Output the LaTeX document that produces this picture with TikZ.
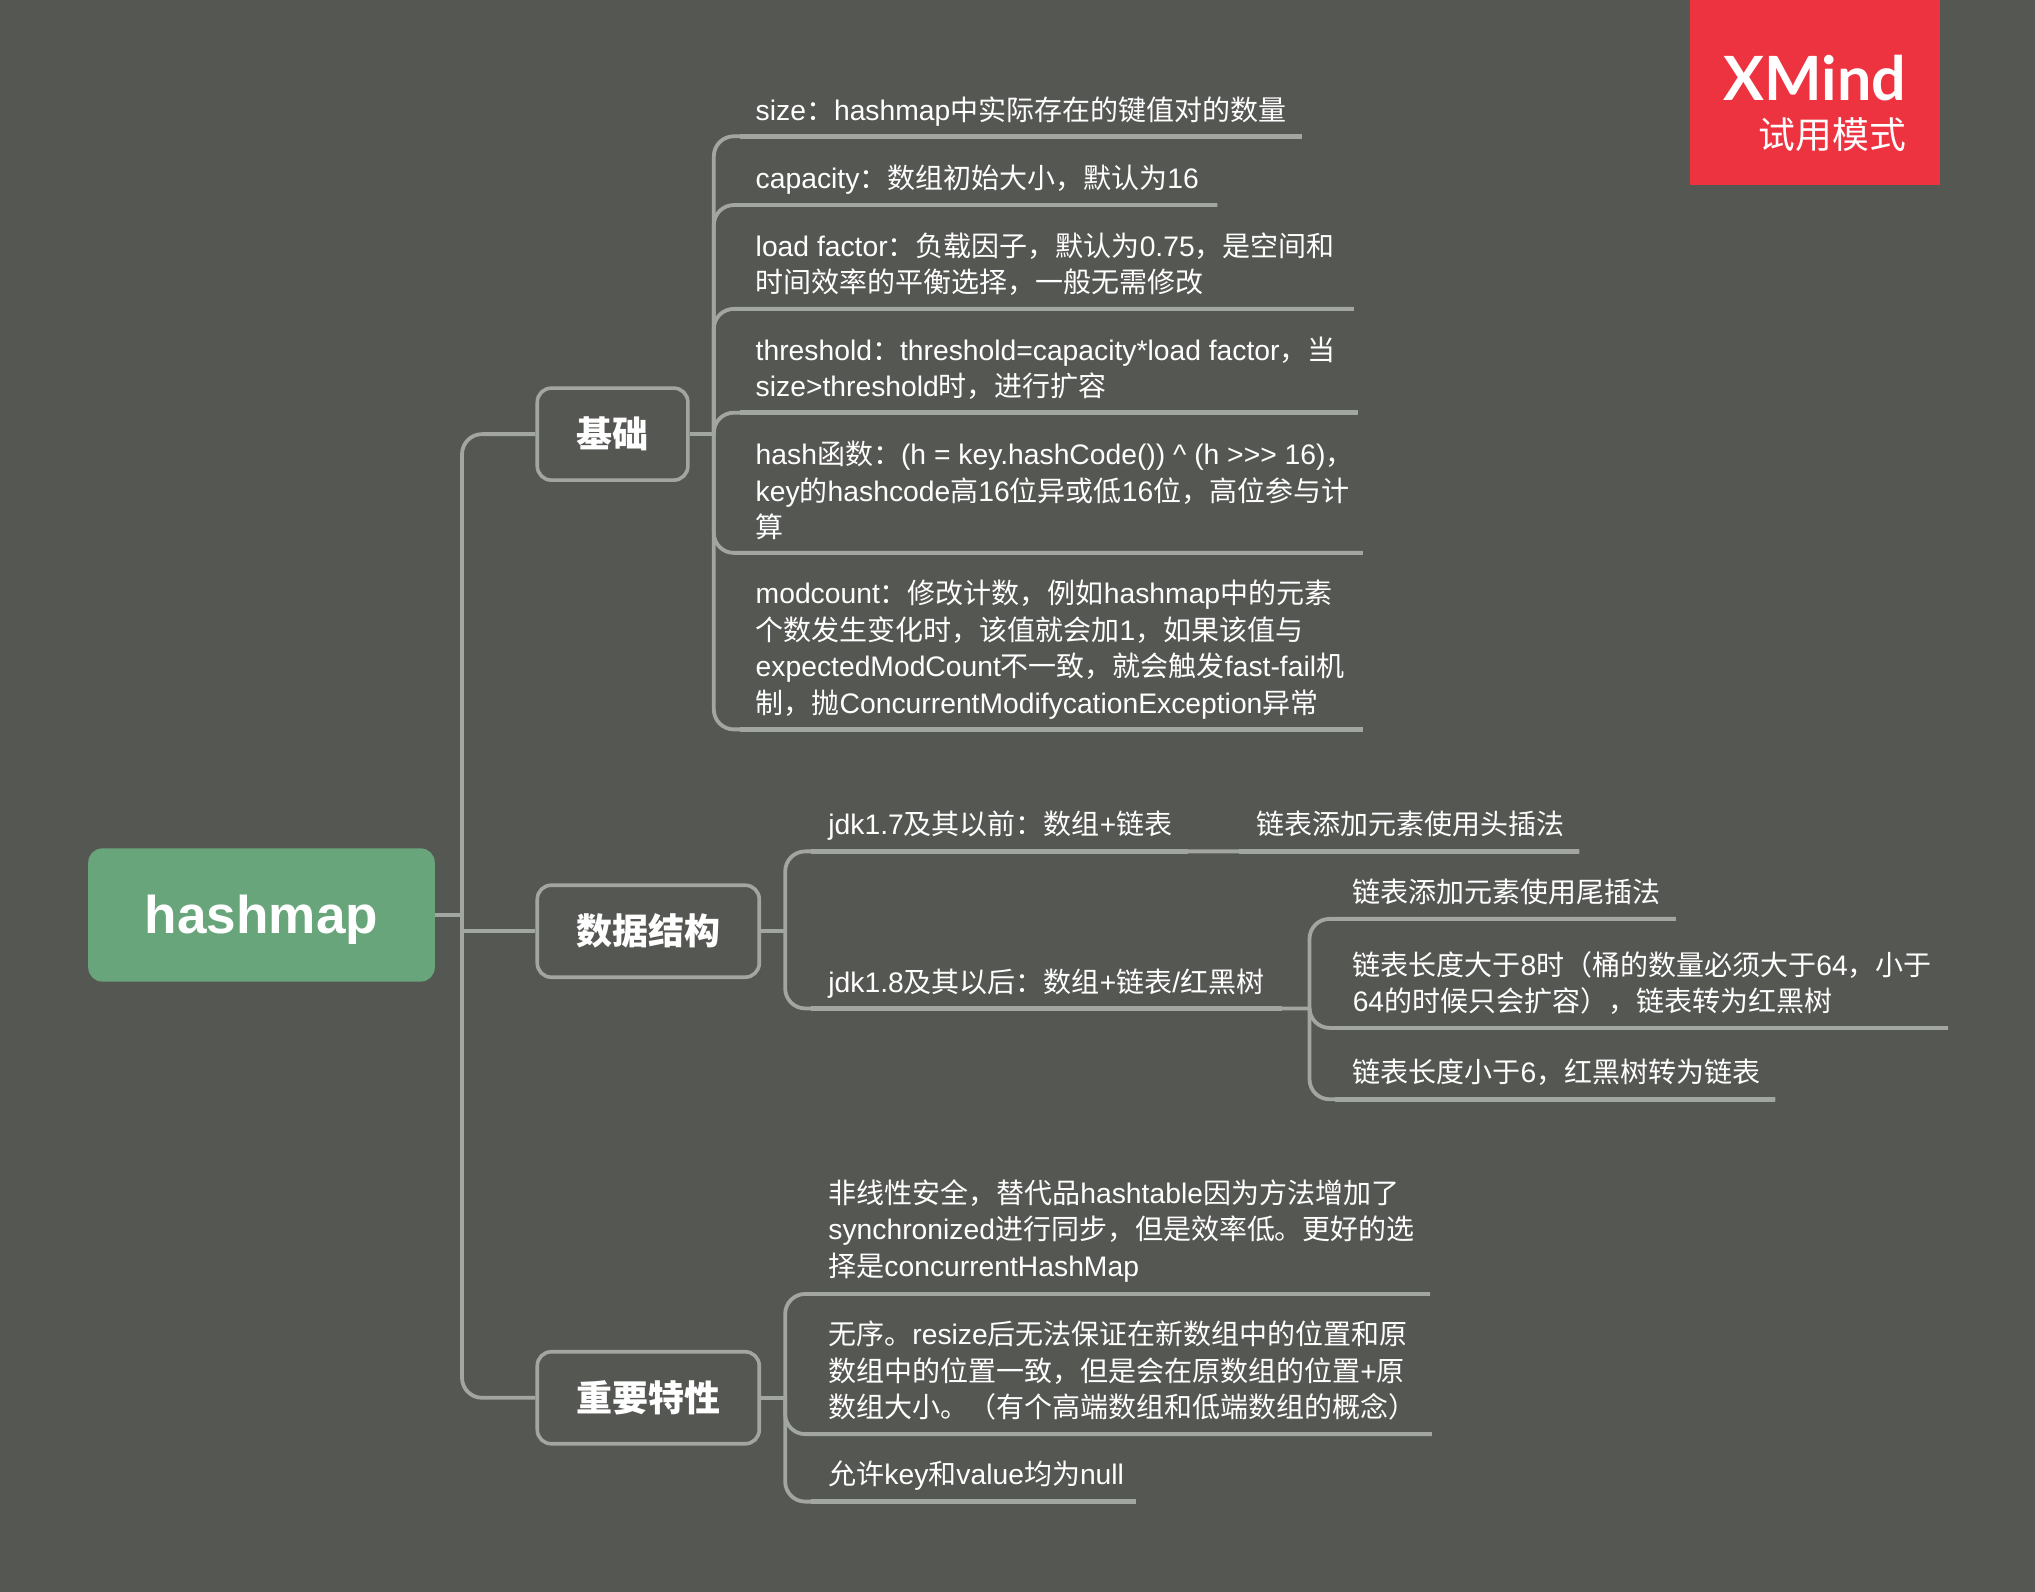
\documentclass[tikz,border=0pt]{standalone}
\usepackage{fontspec}
\setmainfont[Scale=1.01]{Liberation Sans}
\newfontfamily\cjkfont{Noto Sans CJK SC}
\newfontfamily\brandfont{Lato}
\XeTeXinterchartokenstate=1
\newXeTeXintercharclass\cjkclass
\count255="3000
\loop\ifnum\count255<"9FFF \XeTeXcharclass\count255=\cjkclass \advance\count255 by 1 \repeat
\count255="FF00
\loop\ifnum\count255<"FF60 \XeTeXcharclass\count255=\cjkclass \advance\count255 by 1 \repeat
\XeTeXinterchartoks 0 \cjkclass={\begingroup\cjkfont}
\XeTeXinterchartoks 4095 \cjkclass={\begingroup\cjkfont}
\XeTeXinterchartoks \cjkclass 0={\endgroup}
\XeTeXinterchartoks \cjkclass 4095={\endgroup}
\definecolor{slate}{HTML}{555753}
\definecolor{wire}{HTML}{A2A6A1}
\definecolor{leafgreen}{HTML}{68A57B}
\definecolor{brandred}{HTML}{EE3340}
\tikzstyle{root}=[fill=leafgreen, rounded corners=7pt, minimum width=173.3pt, minimum height=66.6pt, text depth=0.4pt, text=white, font=\bfseries\fontsize{26.3}{30}\selectfont]
\tikzstyle{topic}=[draw=wire, line width=1.8pt, rounded corners=7pt, minimum height=46pt, inner sep=0, text=white, font=\bfseries\fontsize{18}{21}\selectfont]
\tikzstyle{leaf}=[anchor=west, inner sep=0, align=left, text=white, font=\fontsize{14}{18.2}\selectfont]
\tikzstyle{short leaf}=[leaf, text height=13pt, text depth=2.4pt]
\tikzstyle{stub}=[draw=wire, line width=2pt]
\tikzstyle{connector}=[draw=wire, line width=1.9pt, rounded corners=10pt]
\tikzstyle{underline}=[draw=wire, line width=2.3pt]

\begin{document}
\begin{tikzpicture}[x=0.649pt, y=-0.649pt]
    \useasboundingbox (0, 0) rectangle (1568, 1225.9);
    \fill[slate] (-10, -10) rectangle (1578, 1236);

    \fill[brandred] (1302, -4) rectangle (1495, 142.5);
    \node[anchor=east, inner sep=0, text=white, font=\brandfont\bfseries\fontsize{30.5}{34}\selectfont] (brand) at (1469, 60) {XMind};
    \node[anchor=east, inner sep=0, text=white, font=\fontsize{18.4}{22}\selectfont] (trial) at (1469, 104) {试用模式};

    \node[root] (hashmap) at (201.5, 705) {hashmap};
    \node[topic, minimum width=75.3pt] (basics) at (472, 334.5) {基础};
    \node[topic, minimum width=111pt] (structure) at (499.5, 717.5) {数据结构};
    \node[topic, minimum width=111pt] (features) at (499.5, 1077) {重要特性};

    \coordinate (hashmap_hub) at (356, 705);
    \draw[stub] (hashmap) -- (hashmap_hub);
    \draw[connector] (hashmap_hub) |- (basics);
    \draw[connector] (hashmap_hub) |- (features);
    \draw[connector] (hashmap_hub |- structure) -- (structure);

    \node[short leaf] (size_leaf) at (582, 85) {size：hashmap中实际存在的键值对的数量};
    \node[short leaf] (capacity_leaf) at (582, 137) {capacity：数组初始大小，默认为16};
    \node[leaf] (load_leaf) at (582, 203.5) {load factor：负载因子，默认为0.75，是空间和\\时间效率的平衡选择，一般无需修改};
    \node[leaf] (threshold_leaf) at (582, 283.5) {threshold：threshold=capacity*load factor，当\\size>threshold时，进行扩容};
    \node[leaf] (hash_leaf) at (582, 378) {hash函数：(h = key.hashCode()) \^{} (h {>}{>}{>} 16)，\\key的hashcode高16位异或低16位，高位参与计\\算};
    \node[leaf] (modcount_leaf) at (582, 500.5) {modcount：修改计数，例如hashmap中的元素\\个数发生变化时，该值就会加1，如果该值与\\expectedModCount不一致，就会触发fast-fail机\\制，抛ConcurrentModifycationException异常};

    \coordinate (basics_hub) at (550, 334.5);
    \coordinate (basics_rail) at (570, 0);
    \coordinate (size_end) at (1003, 105);
    \coordinate (capacity_end) at (938, 158);
    \coordinate (load_end) at (1043, 238);
    \coordinate (threshold_end) at (1046, 318);
    \coordinate (hash_end) at (1050, 426);
    \coordinate (modcount_end) at (1050, 562);
    \draw[stub] (basics) -- (basics_hub);
    \draw[connector] (basics_hub) |- (size_end);
    \draw[connector] (basics_hub) |- (capacity_end);
    \draw[connector] (basics_hub) |- (load_end);
    \draw[connector] (basics_hub) |- (threshold_end);
    \draw[connector] (basics_hub) |- (hash_end);
    \draw[connector] (basics_hub) |- (modcount_end);
    \foreach \leafend in {size_end, capacity_end, load_end, threshold_end, hash_end, modcount_end}
        \draw[underline] (basics_rail |- \leafend) -- (\leafend);

    \node[short leaf] (jdk7_leaf) at (638, 635) {jdk1.7及其以前：数组+链表};
    \node[short leaf] (head_leaf) at (968, 635) {链表添加元素使用头插法};
    \node[short leaf] (jdk8_leaf) at (638, 756.5) {jdk1.8及其以后：数组+链表/红黑树};
    \node[short leaf] (tail_leaf) at (1042, 687.5) {链表添加元素使用尾插法};
    \node[leaf] (tree_leaf) at (1042, 757.5) {链表长度大于8时（桶的数量必须大于64，小于\\64的时候只会扩容），链表转为红黑树};
    \node[short leaf] (list_leaf) at (1042, 826) {链表长度小于6，红黑树转为链表};

    \coordinate (structure_hub) at (605, 717.5);
    \coordinate (structure_rail) at (625, 0);
    \coordinate (jdk7_end) at (915, 656);
    \coordinate (head_start) at (955, 656);
    \coordinate (head_end) at (1217, 656);
    \coordinate (jdk8_end) at (988, 777);
    \coordinate (jdk8_hub) at (1009, 777);
    \coordinate (jdk8_rail) at (1029, 0);
    \coordinate (tail_end) at (1291, 708);
    \coordinate (tree_end) at (1501, 792);
    \coordinate (list_end) at (1368, 847);
    \draw[stub] (structure) -- (structure_hub);
    \draw[connector] (structure_hub) |- (head_end);
    \draw[connector] (structure_hub) |- (jdk8_hub);
    \draw[connector] (jdk8_hub) |- (tail_end);
    \draw[connector] (jdk8_hub) |- (tree_end);
    \draw[connector] (jdk8_hub) |- (list_end);
    \draw[underline] (structure_rail |- jdk7_end) -- (jdk7_end);
    \draw[underline] (head_start) -- (head_end);
    \draw[underline] (structure_rail |- jdk8_end) -- (jdk8_end);
    \foreach \leafend in {tail_end, tree_end, list_end}
        \draw[underline] (jdk8_rail |- \leafend) -- (\leafend);

    \node[leaf] (safety_leaf) at (638, 948.5) {非线性安全，替代品hashtable因为方法增加了\\synchronized进行同步，但是效率低。更好的选\\择是concurrentHashMap};
    \node[leaf] (order_leaf) at (638, 1056) {无序。resize后无法保证在新数组中的位置和原\\数组中的位置一致，但是会在原数组的位置+原\\数组大小。（有个高端数组和低端数组的概念）};
    \node[short leaf] (null_leaf) at (638, 1136) {允许key和value均为null};

    \coordinate (features_hub) at (605, 1077);
    \coordinate (safety_end) at (1102, 997);
    \coordinate (order_end) at (1103, 1105);
    \coordinate (null_end) at (875, 1157);
    \draw[stub] (features) -- (features_hub);
    \draw[connector] (features_hub) |- (safety_end);
    \draw[connector] (features_hub) |- (order_end);
    \draw[connector] (features_hub) |- (null_end);
    \foreach \leafend in {safety_end, order_end, null_end}
        \draw[underline] (structure_rail |- \leafend) -- (\leafend);
\end{tikzpicture}
\end{document}
